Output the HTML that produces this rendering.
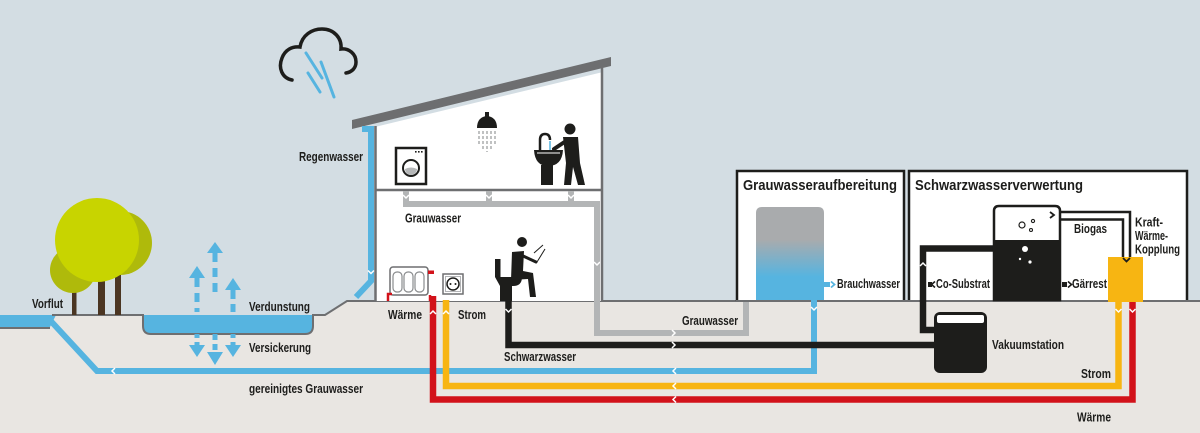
<!DOCTYPE html>
<html><head><meta charset="utf-8">
<style>
html,body{margin:0;padding:0;}
body{width:1200px;height:433px;overflow:hidden;background:#d3dde3;}
svg{display:block}
text{font-family:"Liberation Sans Narrow","Liberation Sans",sans-serif;font-weight:bold;fill:#1d1d1b;font-size:13px;}
.t{font-size:15px;}
</style></head><body>
<svg width="1200" height="433" viewBox="0 0 1200 433" xmlns="http://www.w3.org/2000/svg">
<defs>
<linearGradient id="tank" x1="0" y1="0" x2="0" y2="1">
<stop offset="0" stop-color="#a9abad"/>
<stop offset="0.35" stop-color="#a9abad"/>
<stop offset="0.75" stop-color="#56b4e0"/>
<stop offset="1" stop-color="#56b4e0"/>
</linearGradient>
</defs>
<rect width="1200" height="433" fill="#d3dde3"/>

<!-- ground -->
<path d="M0,315 H325 L347,301 H1200 V433 H0 Z" fill="#e9e6e2"/>

<!-- Vorflut -->
<path d="M0,315 H56 L50,327 H0 Z" fill="#56b4e0"/>
<line x1="0" y1="328" x2="50" y2="328" stroke="#6e6f71" stroke-width="2"/>

<!-- pond -->
<path d="M143,315 V326 Q143,334 151,334 H305 Q313,334 313,326 V315 Z" fill="#56b4e0"/>
<path d="M143,314 V326 Q143,334 151,334 H305 Q313,334 313,326 V314" fill="none" stroke="#6e6f71" stroke-width="2"/>
<path d="M52,315 H143 M313,315 H325 L347,301 H1200" fill="none" stroke="#6e6f71" stroke-width="2"/>

<!-- trees -->
<rect x="72" y="285" width="4.5" height="30" fill="#4a3522"/>
<rect x="98" y="278" width="7" height="37" fill="#4a3522"/>
<rect x="115" y="274" width="6" height="41" fill="#4a3522"/>
<circle cx="120" cy="243" r="32" fill="#afba0b"/>
<circle cx="73" cy="270" r="23" fill="#afba0b"/>
<circle cx="97" cy="240" r="42" fill="#c8d400"/>

<!-- evaporation arrows -->
<g stroke="#56b4e0" stroke-width="5" fill="none">
<line x1="197" y1="278" x2="197" y2="312" stroke-dasharray="9 6"/>
<line x1="215" y1="253" x2="215" y2="298" stroke-dasharray="9 6"/>
<line x1="233" y1="290" x2="233" y2="312" stroke-dasharray="9 5"/>
<line x1="197" y1="334" x2="197" y2="346" stroke-dasharray="4 4"/>
<line x1="215" y1="334" x2="215" y2="353" stroke-dasharray="6 4"/>
<line x1="233" y1="334" x2="233" y2="346" stroke-dasharray="4 4"/>
</g>
<g fill="#56b4e0">
<polygon points="189,278 205,278 197,266"/>
<polygon points="207,253 223,253 215,242"/>
<polygon points="225,290 241,290 233,278"/>
<polygon points="189,345 205,345 197,357"/>
<polygon points="207,352 223,352 215,365"/>
<polygon points="225,345 241,345 233,357"/>
</g>

<!-- cloud -->
<path d="M292,80 C282,78 278,68 282,58 C285,50 292,46 300,47 C302,35 312,29 322,29 C334,29 342,38 341,49 C349,48 356,54 356,62 C356,68 352,72 346,73" fill="none" stroke="#1d1d1b" stroke-width="3.5" stroke-linecap="round"/>
<g stroke="#56b4e0" stroke-width="3" stroke-linecap="round">
<line x1="306" y1="53" x2="322" y2="78"/>
<line x1="308" y1="73" x2="320" y2="92"/>
<line x1="321" y1="62" x2="334" y2="97"/>
</g>

<!-- house -->
<path d="M375,127 L603,72 V301 H375 Z" fill="#ffffff"/>
<line x1="375.5" y1="126" x2="375.5" y2="301" stroke="#6e6f71" stroke-width="2.5"/>
<line x1="602" y1="68" x2="602" y2="301" stroke="#6e6f71" stroke-width="2.5"/>
<line x1="375" y1="190" x2="603" y2="190" stroke="#6e6f71" stroke-width="2.5"/>
<polygon points="352,120 611,57 611,66 352,129" fill="#6d6e70"/>

<!-- rain pipe -->
<path d="M362,129 H371 V281 L356,297" fill="none" stroke="#56b4e0" stroke-width="6"/>

<!-- washing machine -->
<rect x="396" y="148" width="30" height="36" fill="#fff" stroke="#1d1d1b" stroke-width="2.5"/>
<circle cx="411" cy="168" r="8" fill="#fff" stroke="#1d1d1b" stroke-width="2"/>
<path d="M405,169 Q411,166 417,169 A6,6 0 0 1 405,169 Z" fill="#b5b7b8"/>
<rect x="415" y="151" width="1.6" height="1.6" fill="#1d1d1b"/>
<rect x="418" y="151" width="1.6" height="1.6" fill="#1d1d1b"/>
<rect x="421" y="151" width="1.6" height="1.6" fill="#1d1d1b"/>

<!-- shower -->
<rect x="485" y="112" width="4" height="5" fill="#1d1d1b"/>
<path d="M477,128 Q477,117 487,116 Q497,117 497,128 Z" fill="#1d1d1b"/>
<g stroke="#b0b2b3" stroke-width="1.6" stroke-dasharray="3 2">
<line x1="479" y1="131" x2="479" y2="146"/>
<line x1="483" y1="131" x2="483" y2="150"/>
<line x1="487" y1="131" x2="487" y2="152"/>
<line x1="491" y1="131" x2="491" y2="150"/>
<line x1="495" y1="131" x2="495" y2="146"/>
</g>

<!-- sink + person -->
<path d="M540,150 V140 Q540,134 545,134 Q550,134 550,140" fill="none" stroke="#1d1d1b" stroke-width="2.5"/>
<line x1="550" y1="141" x2="550" y2="150" stroke="#56b4e0" stroke-width="1.5"/>
<path d="M534,150 H563 Q562,166 548,166 Q535,166 534,150 Z" fill="#1d1d1b"/>
<line x1="537" y1="153" x2="560" y2="153" stroke="#fff" stroke-width="1"/>
<rect x="541" y="165" width="12" height="20" fill="#1d1d1b"/>
<circle cx="570" cy="129" r="5.5" fill="#1d1d1b"/>
<path d="M563,137 L578,137 L580,163 L585,185 L578,185 L573,167 L571,185 L564,185 L566,163 Z" fill="#1d1d1b"/>
<line x1="566" y1="141" x2="554" y2="149" stroke="#1d1d1b" stroke-width="4" stroke-linecap="round"/>

<!-- Grauwasser pipes -->
<g fill="none" stroke="#b3b5b6" stroke-width="6">
<path d="M406,191 V204 H597 V333 H746 V218 H757"/>
<path d="M489,191 V204"/>
<path d="M571,191 V204"/>
</g>

<!-- radiator -->
<rect x="390" y="267" width="38" height="28" rx="3" fill="#fff" stroke="#6e6f71" stroke-width="1.5"/>
<g fill="none" stroke="#8a8c8e" stroke-width="1.2">
<rect x="393" y="272" width="9" height="20" rx="4"/>
<rect x="404" y="272" width="9" height="20" rx="4"/>
<rect x="415" y="272" width="9" height="20" rx="4"/>
</g>
<rect x="428" y="270.5" width="6" height="3.5" fill="#d2121a"/>
<path d="M392,294 H388 V301" fill="none" stroke="#d2121a" stroke-width="2.5"/>
<path d="M430,295 V301" fill="none" stroke="#d2121a" stroke-width="2.5"/>

<!-- socket -->
<rect x="443" y="274" width="20" height="20" fill="#fff" stroke="#6e6f71" stroke-width="1.5"/>
<rect x="445.5" y="276.5" width="15" height="15" fill="none" stroke="#a0a2a4" stroke-width="0.8"/>
<circle cx="453" cy="284" r="6" fill="#fff" stroke="#1d1d1b" stroke-width="1.5"/>
<circle cx="450.5" cy="284" r="1" fill="#1d1d1b"/>
<circle cx="455.5" cy="284" r="1" fill="#1d1d1b"/>

<!-- toilet + person -->
<rect x="495" y="259" width="5.5" height="18" fill="#1d1d1b"/>
<path d="M495,277 H522 Q522,286 513,286 H500 Z" fill="#1d1d1b"/>
<rect x="500" y="284" width="12" height="17" fill="#1d1d1b"/>
<circle cx="522" cy="242" r="5" fill="#1d1d1b"/>
<path d="M512,252 L524,251 L523,271 L533,273 L536,297 L530,297 L528,279 L511,280 Z" fill="#1d1d1b"/>
<line x1="521" y1="255" x2="536" y2="262" stroke="#1d1d1b" stroke-width="3" stroke-linecap="round"/>
<line x1="534" y1="253" x2="543" y2="245" stroke="#1d1d1b" stroke-width="1"/>
<line x1="537" y1="262" x2="545" y2="249" stroke="#1d1d1b" stroke-width="1"/>

<!-- boxes -->
<rect x="736" y="171" width="168" height="130" fill="#fff"/>
<path d="M737,301 V171 H904 V301" fill="none" stroke="#1d1d1b" stroke-width="2.5"/>
<rect x="909" y="171" width="278" height="130" fill="#fff"/>
<path d="M909,301 V171 H1187 V301" fill="none" stroke="#1d1d1b" stroke-width="2.5"/>
<line x1="736" y1="301" x2="1200" y2="301" stroke="#6e6f71" stroke-width="2"/>

<!-- grauwasser tank -->
<path d="M756,300 V213 Q756,207 762,207 H818 Q824,207 824,213 V300 Z" fill="url(#tank)"/>
<rect x="824" y="282" width="6" height="5" fill="#56b4e0"/>
<polyline points="831,281.5 834.5,284.5 831,287.5" fill="none" stroke="#56b4e0" stroke-width="1.8"/>

<!-- blue main pipe -->
<path d="M48,318 L97,371 H814 V300" fill="none" stroke="#56b4e0" stroke-width="6"/>

<!-- yellow & red -->
<path d="M446,300 V386 H1118.5 V302" fill="none" stroke="#f7b512" stroke-width="6.5"/>
<path d="M433,296 V399.5 H1132.5 V302" fill="none" stroke="#d2121a" stroke-width="6.5"/>

<!-- black pipes -->
<path d="M508.5,300 V345 H935" fill="none" stroke="#1d1d1b" stroke-width="6.5"/>
<path d="M994,248.5 H923 V330 H935" fill="none" stroke="#1d1d1b" stroke-width="6.5"/>

<!-- fermenter -->
<path d="M994,300 V211 Q994,206 999,206 H1055 Q1060,206 1060,211 V300 Z" fill="#fff" stroke="#1d1d1b" stroke-width="2.5"/>
<rect x="994" y="240" width="66" height="60" fill="#1d1d1b"/>
<circle cx="1022" cy="225" r="3" fill="none" stroke="#1d1d1b" stroke-width="1.2"/>
<circle cx="1033" cy="221" r="1.6" fill="none" stroke="#1d1d1b" stroke-width="1.1"/>
<circle cx="1031" cy="230" r="1.5" fill="none" stroke="#1d1d1b" stroke-width="1.1"/>
<circle cx="1025" cy="249" r="3" fill="#fff"/>
<circle cx="1020" cy="259" r="1.2" fill="#fff"/>
<circle cx="1030" cy="262" r="1.6" fill="#fff"/>
<polyline points="1050,212 1054,215 1050,218" fill="none" stroke="#1d1d1b" stroke-width="1.8"/>

<!-- biogas pipe -->
<path d="M1060,212 H1130 V258" fill="none" stroke="#1d1d1b" stroke-width="2.5"/>
<path d="M1060,219.5 H1123 V258" fill="none" stroke="#1d1d1b" stroke-width="2.5"/>

<!-- KWK -->
<rect x="1108" y="257" width="35" height="45" fill="#f7b512"/>
<polyline points="1123,258 1126.5,261.5 1130,258" fill="none" stroke="#1d1d1b" stroke-width="1.8"/>

<!-- Vakuumstation -->
<rect x="934" y="312" width="53" height="61" rx="6" fill="#1d1d1b"/>
<rect x="937" y="315" width="47" height="8" rx="2" fill="#fff"/>

<!-- co-substrat / gaerrest icons -->
<rect x="928" y="282" width="4" height="5" fill="#1d1d1b"/>
<polyline points="935,281.5 931.5,284.5 935,287.5" fill="none" stroke="#1d1d1b" stroke-width="1.6"/>
<rect x="1062" y="282" width="5" height="5" fill="#1d1d1b"/>
<polyline points="1068,281.5 1071.5,284.5 1068,287.5" fill="none" stroke="#1d1d1b" stroke-width="1.6"/>

<!-- chevrons -->
<g fill="none" stroke="#ffffff" stroke-width="1.5">
<polyline points="368,270.5 371,273.5 374,270.5"/>
<polyline points="403,195 406,198 409,195"/>
<polyline points="486,195 489,198 492,195"/>
<polyline points="568,195 571,198 574,195"/>
<polyline points="594,262 597,265 600,262"/>
<polyline points="743,265 746,262 749,265"/>
<polyline points="672,330 675,333 672,336"/>
<polyline points="672,342 675,345 672,348"/>
<polyline points="676,368 673,371 676,374"/>
<polyline points="676,383 673,386 676,389"/>
<polyline points="676,396.5 673,399.5 676,402.5"/>
<polyline points="115,368 112,371 115,374"/>
<polyline points="430,314 433,311 436,314"/>
<polyline points="443,314 446,311 449,314"/>
<polyline points="505.5,309 508.5,312 511.5,309"/>
<polyline points="811,307 814,310 817,307"/>
<polyline points="920,266 923,263 926,266"/>
<polyline points="1115.5,309 1118.5,312 1121.5,309"/>
<polyline points="1129.5,309 1132.5,312 1135.5,309"/>
</g>

<!-- labels -->
<text x="299" y="161" textLength="64" lengthAdjust="spacingAndGlyphs">Regenwasser</text>
<text x="32" y="308" textLength="31" lengthAdjust="spacingAndGlyphs">Vorflut</text>
<text x="249" y="311" textLength="61" lengthAdjust="spacingAndGlyphs">Verdunstung</text>
<text x="249" y="352" textLength="62" lengthAdjust="spacingAndGlyphs">Versickerung</text>
<text x="249" y="393" textLength="114" lengthAdjust="spacingAndGlyphs">gereinigtes Grauwasser</text>
<text x="405" y="222.5" textLength="56" lengthAdjust="spacingAndGlyphs">Grauwasser</text>
<text x="388" y="319" textLength="34" lengthAdjust="spacingAndGlyphs">Wärme</text>
<text x="458" y="319" textLength="28" lengthAdjust="spacingAndGlyphs">Strom</text>
<text x="504" y="361" textLength="72" lengthAdjust="spacingAndGlyphs">Schwarzwasser</text>
<text x="682" y="325" textLength="56" lengthAdjust="spacingAndGlyphs">Grauwasser</text>
<text class="t" x="743" y="190" textLength="154" lengthAdjust="spacingAndGlyphs">Grauwasseraufbereitung</text>
<text class="t" x="915" y="190" textLength="168" lengthAdjust="spacingAndGlyphs">Schwarzwasserverwertung</text>
<text x="837" y="288" textLength="63" lengthAdjust="spacingAndGlyphs">Brauchwasser</text>
<text x="936" y="288" textLength="54" lengthAdjust="spacingAndGlyphs">Co-Substrat</text>
<text x="1072" y="288" textLength="35" lengthAdjust="spacingAndGlyphs">Gärrest</text>
<text x="1074" y="233" textLength="33" lengthAdjust="spacingAndGlyphs">Biogas</text>
<text x="1135" y="226.5" textLength="28" lengthAdjust="spacingAndGlyphs">Kraft-</text>
<text x="1135" y="240" textLength="33" lengthAdjust="spacingAndGlyphs">Wärme-</text>
<text x="1135" y="253.5" textLength="45" lengthAdjust="spacingAndGlyphs">Kopplung</text>
<text x="992" y="349" textLength="72" lengthAdjust="spacingAndGlyphs">Vakuumstation</text>
<text x="1081" y="378" textLength="30" lengthAdjust="spacingAndGlyphs">Strom</text>
<text x="1077" y="421.5" textLength="34" lengthAdjust="spacingAndGlyphs">Wärme</text>
</svg>
</body></html>
